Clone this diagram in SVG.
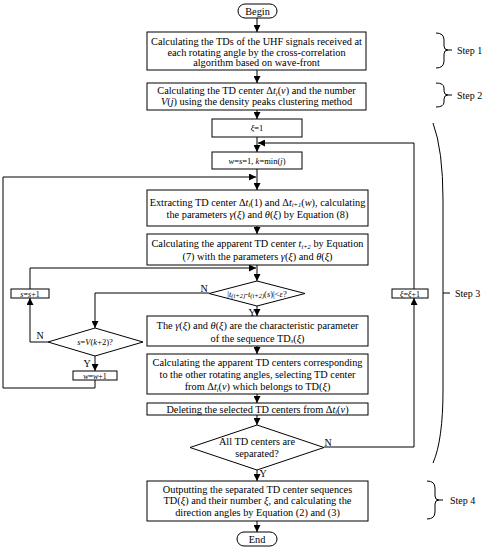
<svg xmlns="http://www.w3.org/2000/svg" width="485" height="550" viewBox="0 0 485 550">
<defs>
<marker id="ah" viewBox="0 0 10 10" refX="10" refY="5" markerWidth="7" markerHeight="7" orient="auto" markerUnits="userSpaceOnUse"><path d="M0,0 L10,5 L0,10 z" fill="#000"/></marker>
<style>
.box{fill:#fff;stroke:#000;stroke-width:1}
.ln{fill:none;stroke:#000;stroke-width:1}
.t{font-family:"Liberation Serif","Times New Roman",serif;font-size:10.3px;fill:#000;text-anchor:middle}
.s{font-size:8.5px}
.lb{font-family:"Liberation Serif","Times New Roman",serif;font-size:10px;fill:#000;text-anchor:middle}
.st{font-family:"Liberation Serif","Times New Roman",serif;font-size:10px;fill:#000}
.i{font-style:italic}
.sub{font-size:6.5px}
</style>
</defs>
<rect width="485" height="550" fill="#fff"/>

<g id="connectors">
<path class="ln" d="M257,18 V32" marker-end="url(#ah)"/>
<path class="ln" d="M257,70 V83" marker-end="url(#ah)"/>
<path class="ln" d="M257,110 V119" marker-end="url(#ah)"/>
<path class="ln" d="M257,137 V152" marker-end="url(#ah)"/>
<path class="ln" d="M414,289 V143 H258" marker-end="url(#ah)"/>
<path class="ln" d="M257,169 V190" marker-end="url(#ah)"/>
<path class="ln" d="M95,380 V388 H3 V177 H256" marker-end="url(#ah)"/>
<path class="ln" d="M257,226 V234" marker-end="url(#ah)"/>
<path class="ln" d="M257,265 V281" marker-end="url(#ah)"/>
<path class="ln" d="M30,289 V268 H256" marker-end="url(#ah)"/>
<path class="ln" d="M209,293 H95 V328" marker-end="url(#ah)"/>
<path class="ln" d="M257,306 V316" marker-end="url(#ah)"/>
<path class="ln" d="M257,346 V354" marker-end="url(#ah)"/>
<path class="ln" d="M48,342 H30 V298" marker-end="url(#ah)"/>
<path class="ln" d="M95,356 V371" marker-end="url(#ah)"/>
<path class="ln" d="M257,394 V403" marker-end="url(#ah)"/>
<path class="ln" d="M257,415 V425" marker-end="url(#ah)"/>
<path class="ln" d="M324,447 H414 V298" marker-end="url(#ah)"/>
<path class="ln" d="M257,470 V481" marker-end="url(#ah)"/>
<path class="ln" d="M257,521 V532" marker-end="url(#ah)"/>
</g>

<g id="begin">
<rect class="box" x="238" y="4" width="39" height="14" rx="7"/>
<text class="t" x="257.5" y="14.5">Begin</text>
</g>

<g id="step1box">
<rect class="box" x="147" y="32" width="219" height="38"/>
<text class="t" x="256.5" y="44.5">Calculating the TDs  of the UHF signals received at</text>
<text class="t" x="256.5" y="55.5">each rotating angle by the cross-correlation</text>
<text class="t" x="256.5" y="66">algorithm based on wave-front</text>
</g>

<g id="step2box">
<rect class="box" x="147" y="83" width="219" height="27"/>
<text class="t" x="256.5" y="94">Calculating the TD center Δ<tspan class="i">t</tspan><tspan class="i sub" dy="1.5">i</tspan><tspan dy="-1.5">(</tspan><tspan class="i">v</tspan>) and the number</text>
<text class="t" x="256.5" y="105"><tspan class="i">V</tspan>(<tspan class="i">j</tspan>) using the density peaks clustering method</text>
</g>

<g id="xi1">
<rect class="box" x="212" y="119" width="90" height="18"/>
<text class="t s" x="257" y="131"><tspan class="i">ξ</tspan>=1</text>
</g>

<g id="init">
<rect class="box" x="212" y="152" width="90" height="17"/>
<text class="t s" x="257" y="163.5"><tspan class="i">w</tspan>=<tspan class="i">s</tspan>=1, <tspan class="i">k</tspan>=min(<tspan class="i">j</tspan>)</text>
</g>

<g id="extract">
<rect class="box" x="147" y="190" width="221" height="36"/>
<text class="t" x="257.5" y="205.5">Extracting  TD center Δ<tspan class="i">t</tspan><tspan class="i sub" dy="1.5">i</tspan><tspan dy="-1.5">(1) and Δ</tspan><tspan class="i">t</tspan><tspan class="i sub" dy="1.5">i+1</tspan><tspan dy="-1.5">(</tspan><tspan class="i">w</tspan>), calculating</text>
<text class="t" x="257.5" y="218">the parameters <tspan class="i">γ</tspan>(<tspan class="i">ξ</tspan>) and <tspan class="i">θ</tspan>(<tspan class="i">ξ</tspan>) by Equation (8)</text>
</g>

<g id="apparent">
<rect class="box" x="147" y="234" width="221" height="31"/>
<text class="t" x="257.5" y="247">Calculating the apparent TD center <tspan class="i">t</tspan><tspan class="i sub" dy="1.5">i+2</tspan><tspan dy="-1.5"> by Equation</tspan></text>
<text class="t" x="257.5" y="259.5">(7) with the parameters <tspan class="i">γ</tspan>(<tspan class="i">ξ</tspan>) and <tspan class="i">θ</tspan>(<tspan class="i">ξ</tspan>)</text>
</g>

<g id="dec1">
<polygon class="box" points="257,281 305,293.5 257,306 209,293.5"/>
<text class="t s" x="257" y="296.5">|<tspan class="i">t</tspan><tspan class="i sub" dy="1.5">(i+2)</tspan><tspan dy="-1.5">-</tspan><tspan class="i">t</tspan><tspan class="i sub" dy="1.5">(i+2)</tspan><tspan dy="-1.5">(</tspan><tspan class="i">s</tspan>)|&lt;<tspan class="i">ε</tspan>?</text>
<text class="lb" x="204" y="292">N</text>
<text class="lb" x="252" y="315.5">Y</text>
</g>

<g id="charparam">
<rect class="box" x="147" y="316" width="221" height="30"/>
<text class="t" x="257.5" y="328.5">The <tspan class="i">γ</tspan>(<tspan class="i">ξ</tspan>) and <tspan class="i">θ</tspan>(<tspan class="i">ξ</tspan>) are the characteristic parameter</text>
<text class="t" x="257.5" y="341.5">of the sequence TD<tspan class="i sub" dy="1.5">s</tspan><tspan dy="-1.5">(</tspan><tspan class="i">ξ</tspan>)</text>
</g>

<g id="sinc">
<rect class="box" x="11" y="289" width="38" height="9"/>
<text class="t" x="30" y="296.5" style="font-size:8px"><tspan class="i">s</tspan>=<tspan class="i">s</tspan>+1</text>
</g>

<g id="dec2">
<polygon class="box" points="95,328 143,342 95,356 48,342"/>
<text class="t s" x="95" y="345"><tspan class="i">s</tspan>=<tspan class="i">V</tspan>(<tspan class="i">k</tspan>+2)?</text>
<text class="lb" x="40" y="338.5">N</text>
<text class="lb" x="87" y="366.5">Y</text>
</g>

<g id="winc">
<rect class="box" x="73" y="371" width="44" height="9"/>
<text class="t" x="95" y="378.5" style="font-size:8px"><tspan class="i">w</tspan>=<tspan class="i">w</tspan>+1</text>
</g>

<g id="select">
<rect class="box" x="147" y="354" width="221" height="40"/>
<text class="t" x="257.5" y="366">Calculating the apparent TD centers corresponding</text>
<text class="t" x="257.5" y="378">to the other rotating angles, selecting TD center</text>
<text class="t" x="257.5" y="390">from Δ<tspan class="i">t</tspan><tspan class="i sub" dy="1.5">i</tspan><tspan dy="-1.5">(</tspan><tspan class="i">v</tspan>) which belongs to TD(<tspan class="i">ξ</tspan>)</text>
</g>

<g id="delete">
<rect class="box" x="147" y="403" width="221" height="12"/>
<text class="t" x="257.5" y="412.5">Deleting the selected TD centers from Δ<tspan class="i">t</tspan><tspan class="i sub" dy="1.5">i</tspan><tspan dy="-1.5">(</tspan><tspan class="i">v</tspan>)</text>
</g>

<g id="dec3">
<polygon class="box" points="257,425 324,447.5 257,470 190,447.5"/>
<text class="t" x="257" y="445">All TD centers are</text>
<text class="t" x="257" y="456.5">separated?</text>
<text class="lb" x="328" y="446">N</text>
<text class="lb" x="263" y="477">Y</text>
</g>

<g id="xiinc">
<rect class="box" x="392" y="289" width="36" height="9"/>
<text class="t" x="410" y="296.5" style="font-size:8px"><tspan class="i">ξ</tspan>=<tspan class="i">ξ</tspan>+1</text>
</g>

<g id="output">
<rect class="box" x="147" y="481" width="221" height="40"/>
<text class="t" x="257.5" y="492.5">Outputting the separated TD center sequences</text>
<text class="t" x="257.5" y="504">TD(<tspan class="i">ξ</tspan>) and their number <tspan class="i">ξ</tspan>, and calculating the</text>
<text class="t" x="257.5" y="515.5">direction angles by Equation (2) and (3)</text>
</g>

<g id="end">
<rect class="box" x="237" y="532" width="40" height="14" rx="7"/>
<text class="t" x="257" y="542.5">End</text>
</g>

<g id="steps">
<path class="ln" d="M436,33 Q444,33 444,40 V46 Q444,50 448,50 Q444,50 444,54 V61 Q444,68 436,68 M448,50 H452"/>
<text class="st" x="457" y="54">Step 1</text>
<path class="ln" d="M436,83 Q444,83 444,88 V91 Q444,95 448,95 Q444,95 444,99 V102 Q444,107 436,107 M448,95 H452"/>
<text class="st" x="457" y="99">Step 2</text>
<path class="ln" d="M433,123 Q443,150 443,200 V390 Q443,440 433,463 M443,293 H450"/>
<text class="st" x="455" y="296.5">Step 3</text>
<path class="ln" d="M427,481 Q435,481 435,488 V496 Q435,500 439,500 Q435,500 435,504 V512 Q435,519 427,519 M439,500 H443"/>
<text class="st" x="450" y="503.5">Step 4</text>
</g>
</svg>
